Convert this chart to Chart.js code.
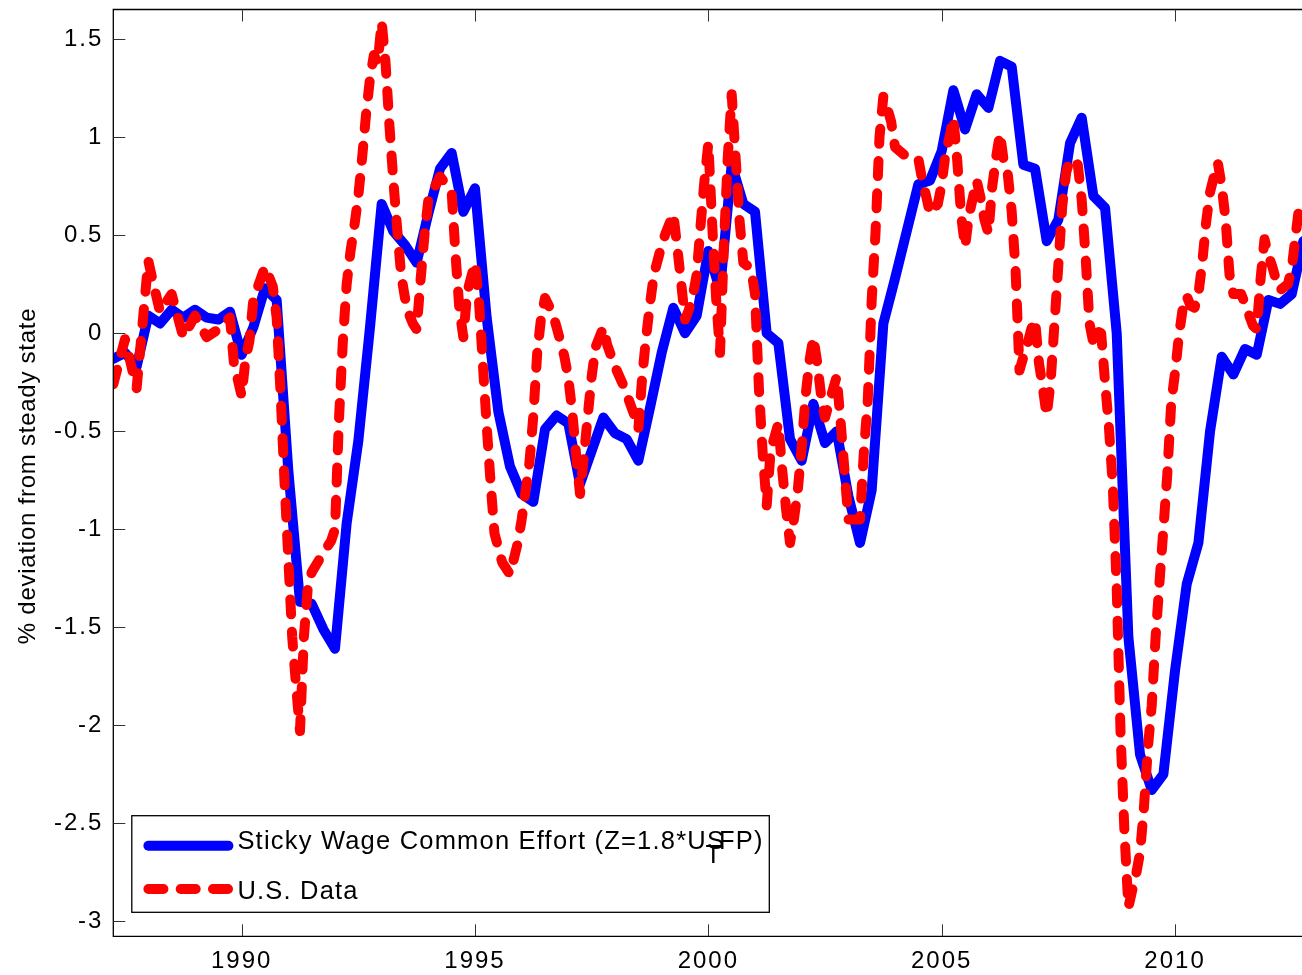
<!DOCTYPE html>
<html>
<head>
<meta charset="utf-8">
<script src="https://cdn.jsdelivr.net/npm/chart.js@4/dist/chart.umd.min.js"></script>
<style>
  html, body { margin: 0; padding: 0; background: #fff; overflow: hidden; }
  canvas { display: block; }
</style>
</head>
<body>
<canvas id="chart" width="1302" height="975"></canvas>
<script>
// Axis ticks
const yearTicks = [1990, 1995, 2000, 2005, 2010];
const valueTicks = [-3, -2.5, -2, -1.5, -1, -0.5, 0, 0.5, 1, 1.5];
const yAxisTitle = '% deviation from steady state';

// Legend entries (the model label carries a subscripted "T")
const modelLabelMain = 'Sticky Wage Common Effort (Z=1.8*US';
const modelLabelSub = 'T';
const modelLabelTail = 'FP)';
const dataLabel = 'U.S. Data';

// Model series: quarterly, first observation 1987:Q2
const modelStart = 1987.25;
const stickyWageValues = [
  -0.13, -0.10, -0.17, 0.09, 0.05, 0.12, 0.08, 0.12, 0.08, 0.07,
  0.11, -0.11, 0.03, 0.23, 0.17, -0.70, -1.37, -1.38, -1.51, -1.61,
  -0.97, -0.55, 0.03, 0.66, 0.52, 0.45, 0.36, 0.61, 0.84, 0.92,
  0.62, 0.74, 0.08, -0.40, -0.68, -0.82, -0.86, -0.49, -0.42, -0.46,
  -0.77, -0.60, -0.43, -0.51, -0.54, -0.65, -0.38, -0.10, 0.13, 0.00,
  0.09, 0.42, 0.22, 0.86, 0.66, 0.62, 0.00, -0.05, -0.54, -0.65,
  -0.36, -0.56, -0.50, -0.83, -1.07, -0.80, 0.05, 0.28, 0.52, 0.76,
  0.78, 0.93, 1.24, 1.04, 1.22, 1.15, 1.39, 1.36, 0.86, 0.84,
  0.47, 0.58, 0.97, 1.10, 0.70, 0.64, 0.00, -1.55, -2.15, -2.33,
  -2.25, -1.72, -1.28, -1.07, -0.50, -0.12, -0.21, -0.08, -0.11, 0.17,
  0.15, 0.20, 0.47
];

// U.S. data: monthly observations, counted in months after April 1987
const usDataMonths = [
  0, 3, 6, 9, 10, 12, 15, 18, 21, 24, 27, 30, 31, 33, 34, 35, 36, 39, 41, 42,
  43, 44, 45, 46, 47, 48, 49, 50, 51, 54, 56, 57, 58, 59, 60, 61, 62, 63, 64, 65,
  66, 67, 68, 69, 70, 71, 72, 73, 74, 75, 76, 77, 78, 79, 80, 81, 84, 87, 88, 89,
  90, 91, 93, 94, 95, 96, 97, 98, 100, 102, 104, 105, 107, 108, 109, 110, 111, 113, 114, 116,
  117, 118, 119, 120, 121, 122, 123, 124, 126, 127, 129, 131, 132, 134, 135, 136, 137, 138, 139, 141,
  142, 144, 145, 146, 147, 148, 149, 150, 151, 152, 153, 154, 155, 156, 157, 158, 159, 160, 161, 162,
  164, 165, 166, 167, 168, 169, 171, 172, 173, 174, 175, 176, 177, 178, 179, 180, 181, 182, 183, 184,
  185, 186, 187, 188, 189, 192, 193, 194, 195, 196, 197, 198, 199, 200, 201, 204, 207, 208, 209, 210,
  212, 213, 214, 215, 216, 217, 218, 219, 220, 222, 223, 224, 225, 226, 227, 228, 229, 230, 231, 232,
  233, 234, 235, 236, 237, 238, 239, 240, 241, 242, 243, 244, 245, 246, 248, 249, 250, 251, 252, 253,
  254, 255, 256, 257, 258, 259, 260, 261, 262, 263, 264, 265, 266, 267, 268, 269, 270, 271, 272, 273,
  274, 275, 276, 277, 278, 279, 280, 281, 282, 283, 284, 285, 286, 287, 288, 290, 291, 293, 294, 295,
  296, 297, 298, 299, 300, 302, 303, 304, 305
];
const usDataValues = [
  -0.26, -0.03, -0.28, 0.37, 0.28, 0.11, 0.20, -0.02, 0.09, -0.02, 0.02, 0.08, -0.15, -0.32, -0.13, -0.04, 0.17, 0.34, 0.24, 0.08,
  -0.30, -0.75, -1.15, -1.55, -1.80, -2.03, -1.55, -1.30, -1.22, -1.12, -1.06, -1.00, -0.45, -0.05, 0.25, 0.42, 0.55, 0.70, 0.90, 1.12,
  1.30, 1.42, 1.38, 1.59, 1.38, 1.06, 0.78, 0.53, 0.30, 0.18, 0.10, 0.05, 0.02, 0.27, 0.50, 0.68, 0.80, 0.72, 0.40, 0.12,
  -0.02, 0.21, 0.36, 0.17, -0.15, -0.47, -0.76, -1.02, -1.17, -1.23, -1.07, -0.95, -0.66, -0.42, -0.10, 0.08, 0.18, 0.10, 0.03, -0.12,
  -0.23, -0.40, -0.62, -0.82, -0.63, -0.42, -0.22, -0.07, 0.03, -0.06, -0.17, -0.26, -0.31, -0.42, -0.49, -0.22, -0.02, 0.15, 0.30, 0.45,
  0.51, 0.61, 0.44, 0.26, 0.07, 0.12, 0.19, 0.30, 0.55, 0.78, 0.97, 0.55, 0.18, -0.10, 0.45, 0.90, 1.22, 0.90, 0.58, 0.36,
  0.33, 0.20, -0.28, -0.62, -0.88, -0.60, -0.46, -0.70, -0.90, -1.07, -0.95, -0.80, -0.58, -0.32, -0.14, -0.02, -0.15, -0.32, -0.43, -0.36,
  -0.29, -0.22, -0.45, -0.70, -0.95, -0.95, -0.60, -0.34, 0.17, 0.52, 1.00, 1.21, 1.15, 1.08, 0.95, 0.90, 0.89, 0.78, 0.70, 0.61,
  0.66, 0.76, 0.92, 1.00, 1.10, 0.88, 0.60, 0.44, 0.60, 0.78, 0.69, 0.58, 0.51, 0.75, 0.90, 1.02, 0.87, 0.81, 0.62, 0.32,
  -0.19, -0.12, -0.06, 0.02, 0.07, -0.15, -0.28, -0.42, -0.25, 0.05, 0.35, 0.65, 0.82, 0.89, 0.86, 0.68, 0.39, 0.05, -0.05, 0.01,
  0.00, -0.25, -0.48, -0.78, -1.30, -2.05, -2.55, -2.93, -2.84, -2.76, -2.65, -2.42, -2.12, -1.90, -1.55, -1.27, -1.00, -0.72, -0.36, -0.20,
  -0.01, 0.13, 0.19, 0.14, 0.13, 0.20, 0.36, 0.57, 0.72, 0.80, 0.87, 0.75, 0.58, 0.30, 0.20, 0.20, 0.15, 0.04, 0.02, 0.28,
  0.48, 0.40, 0.34, 0.27, 0.22, 0.25, 0.33, 0.50, 0.66
];

const modelPoints = stickyWageValues.map((v, i) => ({ x: modelStart + i / 4, y: v }));
const usDataPoints = usDataMonths.map((m, i) => ({ x: modelStart + m / 12, y: usDataValues[i] }));

const FONT = '"Liberation Sans", Arial, Helvetica, sans-serif';
const BLUE = '#0000ff';
const RED = '#ff0000';
const DASH = [15, 17.3];

// Box, inward tick marks, rotated y title and the in-plot legend
const matlabFrame = {
  id: 'matlabFrame',
  beforeDraw(chart) {
    chart.ctx.letterSpacing = '2px';
  },
  afterDatasetsDraw(chart) {
    const { ctx, chartArea: a, scales: { x, y } } = chart;
    ctx.save();
    ctx.letterSpacing = '0px';

    // axes box (the right side runs past the canvas)
    ctx.strokeStyle = '#000';
    ctx.lineWidth = 1.3;
    ctx.beginPath();
    ctx.moveTo(a.right + 2, a.top);
    ctx.lineTo(a.left, a.top);
    ctx.lineTo(a.left, a.bottom);
    ctx.lineTo(a.right + 2, a.bottom);
    ctx.stroke();

    // inward ticks
    const tl = 12;
    ctx.strokeStyle = '#333';
    ctx.lineWidth = 1;
    ctx.beginPath();
    x.ticks.forEach(t => {
      const px = Math.round(x.getPixelForValue(t.value)) + 0.5;
      ctx.moveTo(px, a.bottom); ctx.lineTo(px, a.bottom - tl);
      ctx.moveTo(px, a.top); ctx.lineTo(px, a.top + tl);
    });
    y.ticks.forEach(t => {
      const py = Math.round(y.getPixelForValue(t.value)) + 0.5;
      ctx.moveTo(a.left, py); ctx.lineTo(a.left + tl, py);
    });
    ctx.stroke();

    // y axis title
    ctx.save();
    ctx.translate(35, (a.top + a.bottom) / 2 + 3);
    ctx.rotate(-Math.PI / 2);
    ctx.fillStyle = '#000';
    ctx.font = '24px ' + FONT;
    ctx.letterSpacing = '0.75px';
    ctx.textAlign = 'center';
    ctx.textBaseline = 'alphabetic';
    ctx.fillText(yAxisTitle, 0, 0);
    ctx.restore();

    // legend
    const lx = a.left + 18.5, ly = a.bottom - 120.6, lw = 637.5, lh = 96.6;
    ctx.fillStyle = '#fff';
    ctx.fillRect(lx, ly, lw, lh);
    ctx.strokeStyle = '#000';
    ctx.lineWidth = 1.3;
    ctx.strokeRect(lx, ly, lw, lh);

    const sx0 = lx + 16.6, sx1 = lx + 96.6;
    const row1 = ly + 30, row2 = ly + 73.3;
    ctx.lineWidth = 10;
    ctx.lineCap = 'round';
    ctx.strokeStyle = BLUE;
    ctx.beginPath(); ctx.moveTo(sx0, row1); ctx.lineTo(sx1, row1); ctx.stroke();
    ctx.strokeStyle = RED;
    ctx.setLineDash(DASH);
    ctx.beginPath(); ctx.moveTo(sx0, row2); ctx.lineTo(sx1, row2); ctx.stroke();
    ctx.setLineDash([]);

    ctx.fillStyle = '#000';
    ctx.font = '25.5px ' + FONT;
    ctx.letterSpacing = '1.2px';
    ctx.textAlign = 'left';
    ctx.textBaseline = 'alphabetic';
    const tx = lx + 105.6;
    const base1 = ly + 33.3, base2 = ly + 83.3;
    ctx.fillText(modelLabelMain, tx, base1);
    const mainW = ctx.measureText(modelLabelMain).width;
    const lastW = ctx.measureText(modelLabelMain.slice(-1)).width;
    ctx.fillText(modelLabelSub, tx + mainW - lastW - 1.5, base1 + 14.3);
    ctx.fillText(modelLabelTail, tx + mainW - 6, base1);
    ctx.fillText(dataLabel, tx, base2);

    ctx.restore();
  }
};

new Chart(document.getElementById('chart'), {
  type: 'line',
  data: {
    datasets: [
      {
        label: modelLabelMain + modelLabelSub + modelLabelTail,
        data: modelPoints,
        borderColor: BLUE,
        borderWidth: 10,
        borderCapStyle: 'round',
        borderJoinStyle: 'round',
        pointRadius: 0,
        fill: false,
        tension: 0,
        clip: 0,
        order: 2
      },
      {
        label: dataLabel,
        data: usDataPoints,
        borderColor: RED,
        borderWidth: 10,
        borderDash: DASH,
        borderCapStyle: 'round',
        borderJoinStyle: 'round',
        pointRadius: 0,
        fill: false,
        tension: 0,
        clip: 0,
        order: 1
      }
    ]
  },
  options: {
    responsive: false,
    animation: false,
    devicePixelRatio: 1,
    layout: { padding: { top: 9.5, right: 0, bottom: 0, left: 0 } },
    plugins: { legend: { display: false }, tooltip: { enabled: false } },
    scales: {
      x: {
        type: 'linear',
        min: 1987.25,
        max: 2012.72,
        grid: { display: false, drawTicks: false },
        border: { display: false },
        afterBuildTicks: s => { s.ticks = yearTicks.map(v => ({ value: v })); },
        afterFit: s => { s.height = 38.7; s.paddingLeft = 0; s.paddingRight = 0; },
        ticks: {
          autoSkip: false,
          maxRotation: 0,
          padding: 11,
          color: '#000',
          font: { family: FONT, size: 24 },
          callback: v => String(v)
        }
      },
      y: {
        type: 'linear',
        min: -3.077,
        max: 1.652,
        grid: { display: false, drawTicks: false },
        border: { display: false },
        afterBuildTicks: s => { s.ticks = valueTicks.map(v => ({ value: v })); },
        afterFit: s => { s.width = 113.3; s.paddingTop = 0; s.paddingBottom = 0; },
        ticks: {
          autoSkip: false,
          padding: 10,
          color: '#000',
          font: { family: FONT, size: 24 },
          callback: v => String(v)
        }
      }
    }
  },
  plugins: [matlabFrame]
});
</script>
</body>
</html>
